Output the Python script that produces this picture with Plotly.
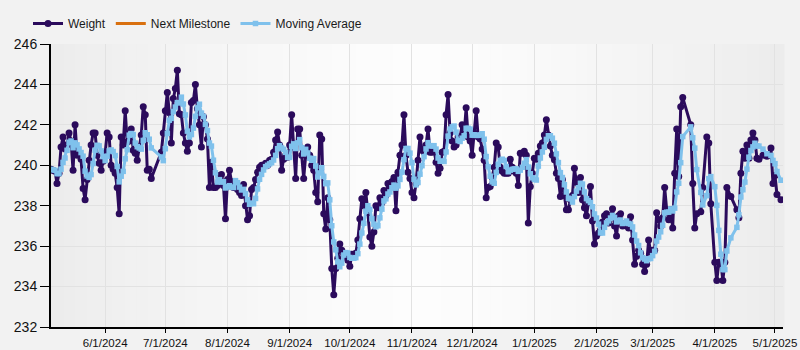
import pandas as pd
import plotly.graph_objects as go

# Daily weigh-ins, grouped by month as (day, weight) pairs
may24 = [(5, 239.8), (6, 239.75), (7, 239.7), (8, 239.1), (9, 239.6), (10, 240.9), (11, 241.4),
         (12, 240.8), (13, 241.0), (14, 241.6), (15, 241.2), (16, 239.75), (17, 242.0), (18, 240.5),
         (19, 240.6), (20, 240.3), (21, 238.85), (22, 238.3), (23, 239.3), (24, 240.25), (25, 241.0),
         (26, 241.6), (27, 241.6), (28, 240.5), (29, 240.1), (30, 239.75), (31, 240.2)]
jun24 = [(1, 240.6), (2, 241.6), (3, 241.4), (4, 240.0), (5, 239.8), (6, 239.6), (7, 238.9),
         (8, 237.6), (9, 241.4), (10, 241.0), (11, 242.7), (12, 241.15), (13, 241.2), (14, 241.8),
         (15, 240.75), (16, 240.6), (17, 240.25), (18, 240.9), (19, 241.5), (20, 242.9), (21, 242.5),
         (22, 239.75), (23, 239.8), (24, 239.35), (29, 240.65), (30, 241.6)]
jul24 = [(1, 242.7), (2, 243.6), (3, 242.6), (4, 241.1), (5, 243.3), (6, 243.8), (7, 244.7),
         (8, 242.55), (9, 242.5), (10, 241.6), (11, 241.1), (12, 240.7), (13, 241.1), (14, 243.1),
         (15, 243.2), (16, 244.0), (17, 242.8), (18, 242.0), (19, 240.9), (20, 242.4), (21, 242.0),
         (22, 241.3), (23, 238.9), (24, 240.15), (25, 238.9), (26, 238.9), (27, 239.0), (28, 239.5),
         (29, 239.55), (30, 239.0), (31, 237.35)]
aug24 = [(1, 239.3), (2, 239.75), (3, 239.2), (4, 238.9), (5, 239.05), (6, 238.8), (7, 238.65),
         (8, 238.5), (9, 239.05), (10, 238.0), (11, 237.3), (12, 237.5), (13, 238.8), (14, 238.9),
         (15, 239.3), (16, 239.65), (17, 239.9), (18, 240.0), (19, 240.0), (20, 240.1), (21, 240.0),
         (22, 240.25), (23, 240.3), (24, 240.65), (25, 241.25), (26, 241.65), (27, 241.0), (28, 239.75),
         (29, 240.3), (30, 240.5), (31, 240.4)]
sep24 = [(1, 241.0), (2, 242.5), (3, 240.9), (4, 239.35), (5, 241.8), (6, 241.8), (7, 240.5),
         (8, 239.35), (9, 240.5), (10, 240.9), (11, 240.5), (12, 240.0), (13, 239.75), (14, 238.65),
         (15, 238.2), (16, 241.5), (17, 241.3), (18, 237.6), (19, 236.85), (20, 238.4), (21, 237.3),
         (22, 234.9), (23, 233.6), (24, 234.9), (25, 235.4), (26, 236.1), (27, 235.8), (28, 235.6),
         (29, 235.5), (30, 235.3)]
oct24 = [(1, 235.0), (2, 235.6), (3, 235.6), (4, 235.65), (5, 236.3), (6, 237.35), (7, 238.35),
         (8, 238.0), (9, 238.65), (10, 237.65), (11, 236.45), (12, 236.0), (13, 236.7), (14, 238.0),
         (15, 237.9), (16, 238.4), (17, 238.15), (18, 238.75), (19, 238.5), (20, 239.1), (21, 238.9),
         (22, 239.2), (23, 239.4), (24, 237.75), (25, 239.65), (26, 240.5), (27, 241.0), (28, 242.5),
         (29, 240.5), (30, 239.65), (31, 239.35)]
nov24 = [(1, 238.65), (2, 238.4), (3, 239.1), (4, 240.25), (5, 241.4), (6, 240.75), (7, 240.65),
         (8, 241.0), (9, 241.8), (10, 240.65), (11, 240.65), (12, 240.75), (13, 240.15), (14, 239.6),
         (15, 239.85), (16, 240.65), (17, 240.7), (18, 242.5), (19, 243.5), (20, 241.6), (21, 241.2),
         (22, 240.9), (23, 241.0), (24, 241.4), (25, 241.4), (26, 242.0), (27, 241.5), (28, 242.85),
         (29, 241.4), (30, 241.2)]
dec24 = [(1, 240.5), (2, 241.6), (3, 242.7), (4, 241.4), (5, 241.3), (6, 240.8), (7, 240.25),
         (8, 238.4), (9, 238.9), (10, 238.95), (11, 239.4), (12, 239.9), (13, 241.1), (14, 240.9),
         (15, 239.9), (16, 239.7), (17, 239.6), (18, 239.6), (19, 239.6), (20, 240.3), (21, 239.9),
         (22, 239.7), (23, 239.6), (24, 239.0), (25, 240.6), (26, 240.6), (27, 240.7), (28, 240.5),
         (29, 237.15), (30, 238.95), (31, 239.6)]
jan25 = [(1, 240.35), (2, 240.3), (3, 240.6), (4, 240.95), (5, 241.1), (6, 241.5), (7, 242.25),
         (8, 241.5), (9, 240.95), (10, 240.5), (11, 240.27), (12, 239.6), (13, 239.35), (14, 238.45),
         (15, 239.3), (16, 238.5), (17, 237.8), (18, 237.8), (19, 238.3), (20, 238.5), (21, 239.85),
         (22, 239.15), (23, 238.65), (24, 239.4), (25, 238.3), (26, 237.9), (27, 237.5), (28, 238.15),
         (29, 238.95), (30, 237.25), (31, 236.1)]
feb25 = [(1, 236.5), (2, 236.65), (3, 236.8), (4, 237.2), (5, 237.5), (6, 237.6), (7, 237.15),
         (8, 237.5), (9, 237.85), (10, 237.0), (11, 236.5), (12, 237.5), (13, 237.6), (14, 237.0),
         (15, 237.1), (16, 237.0), (17, 236.9), (18, 237.45), (19, 236.3), (20, 235.1), (21, 235.5),
         (22, 235.8), (23, 235.65), (24, 235.1), (25, 234.75), (26, 235.1), (27, 236.3), (28, 235.7)]
mar25 = [(1, 235.8), (2, 235.8), (3, 237.65), (4, 237.3), (5, 237.0), (6, 237.4), (7, 238.9),
         (8, 237.8), (9, 237.3), (10, 237.8), (11, 236.9), (12, 239.6), (13, 241.8), (14, 239.45),
         (15, 242.9), (16, 243.35), (20, 242.0), (21, 239.1), (22, 236.9), (23, 237.6), (25, 237.7),
         (26, 238.9), (28, 241.4), (29, 241.1), (30, 238.1)]
apr25 = [(1, 235.2), (2, 234.3), (3, 235.2), (4, 235.2), (5, 234.3), (6, 235.2), (7, 238.9),
         (9, 238.45), (12, 237.8), (13, 237.4), (14, 239.6), (15, 240.7), (16, 240.35), (17, 241.0),
         (18, 240.35), (19, 241.25), (20, 241.6), (21, 241.25), (22, 240.35), (23, 240.3), (25, 240.5),
         (27, 240.45), (29, 240.85), (30, 239.1)]
may25 = [(1, 239.5), (2, 238.55), (4, 238.3)]

months = [("2024-05", may24), ("2024-06", jun24), ("2024-07", jul24), ("2024-08", aug24),
          ("2024-09", sep24), ("2024-10", oct24), ("2024-11", nov24), ("2024-12", dec24),
          ("2025-01", jan25), ("2025-02", feb25), ("2025-03", mar25), ("2025-04", apr25),
          ("2025-05", may25)]

# Next milestone has no entries in this period (legend entry only)
milestone_dates = [None]
milestone_weights = [None]

ma_window = 5

tick_dates = ["2024-06-01", "2024-07-01", "2024-08-01", "2024-09-01", "2024-10-01", "2024-11-01",
              "2024-12-01", "2025-01-01", "2025-02-01", "2025-03-01", "2025-04-01", "2025-05-01"]
tick_labels = ["6/1/2024", "7/1/2024", "8/1/2024", "9/1/2024", "10/1/2024", "11/1/2024",
               "12/1/2024", "1/1/2025", "2/1/2025", "3/1/2025", "4/1/2025", "5/1/2025"]
y_ticks = [232, 234, 236, 238, 240, 242, 244, 246]

dates = [f"{ym}-{day:02d}" for ym, rows in months for day, _ in rows]
weights = [w for _, rows in months for _, w in rows]
moving_avg = pd.Series(weights).rolling(ma_window, min_periods=1).mean().tolist()

WEIGHT_COLOR = "#2b0b5c"
MILESTONE_COLOR = "#d9700f"
MA_COLOR = "#7fc1ec"
FONT = "Liberation Sans, Arial, sans-serif"

fig = go.Figure()
fig.add_trace(go.Scatter(
    x=pd.to_datetime(dates), y=weights, name="Weight", mode="lines+markers",
    line=dict(color=WEIGHT_COLOR, width=3),
    marker=dict(color=WEIGHT_COLOR, size=7, symbol="circle"),
))
fig.add_trace(go.Scatter(
    x=milestone_dates, y=milestone_weights, name="Next Milestone", mode="lines",
    line=dict(color=MILESTONE_COLOR, width=3),
))
fig.add_trace(go.Scatter(
    x=pd.to_datetime(dates), y=moving_avg, name="Moving Average", mode="lines+markers",
    line=dict(color=MA_COLOR, width=3),
    marker=dict(color=MA_COLOR, size=5.5, symbol="square"),
))

# Soft horizontal gradient behind the plot area: grey edges, near-white centre
n_strips = 60
edge, centre = 236, 253
shapes = []
for i in range(n_strips):
    t = (i + 0.5) / n_strips
    level = round(edge + (centre - edge) * (1 - abs(2 * t - 1) ** 1.3))
    shapes.append(dict(
        type="rect", xref="x domain", yref="y domain",
        x0=i / n_strips, x1=(i + 1) / n_strips + 0.002, y0=0, y1=1,
        fillcolor=f"rgb({level},{level},{level})", line=dict(width=0), layer="below",
    ))

fig.update_layout(
    width=800, height=350,
    margin=dict(l=51, r=17, t=44, b=23, autoexpand=False),
    paper_bgcolor="#f2f2f2",
    plot_bgcolor="#f7f7f7",
    shapes=shapes,
    showlegend=True,
    legend=dict(
        orientation="h", xref="container", yref="container",
        x=0.035, y=1 - 9 / 350, xanchor="left", yanchor="top",
        font=dict(family=FONT, size=12, color="#1a1a1a"),
        bgcolor="rgba(0,0,0,0)", itemwidth=30, tracegroupgap=0,
    ),
    font=dict(family=FONT, color="#111111"),
    xaxis=dict(
        type="date", range=["2024-05-05", "2025-05-05"],
        tickmode="array", tickvals=tick_dates, ticktext=tick_labels,
        tickfont=dict(size=11.5), ticks="outside", ticklen=4, tickcolor="#000000",
        showline=True, linecolor="#000000", linewidth=2,
        showgrid=True, gridcolor="#e2e2e2", gridwidth=1, zeroline=False,
    ),
    yaxis=dict(
        range=[232, 246], tickmode="array", tickvals=y_ticks,
        tickfont=dict(size=14), ticks="outside", ticklen=9, tickcolor="#000000",
        showline=True, linecolor="#000000", linewidth=2,
        showgrid=True, gridcolor="#e2e2e2", gridwidth=1, zeroline=False,
    ),
)

fig.write_html("out.html")
